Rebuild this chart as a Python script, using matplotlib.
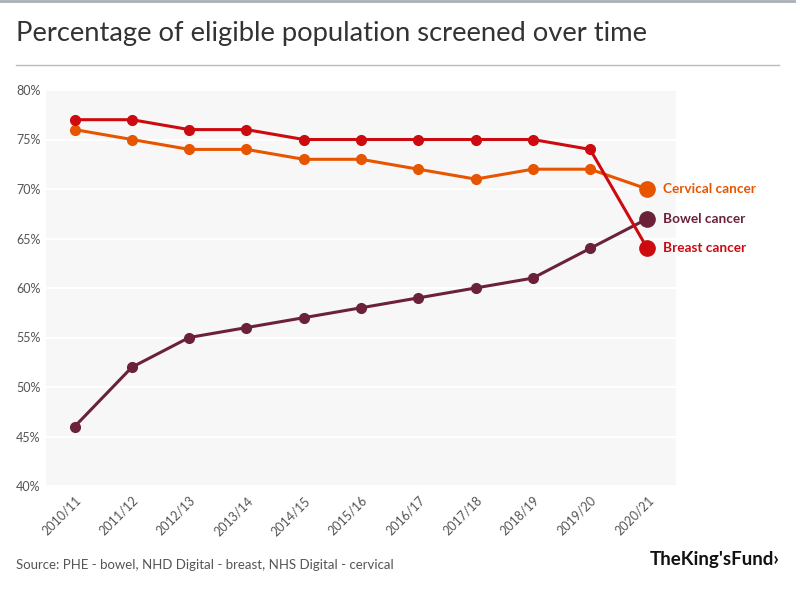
import matplotlib
matplotlib.use("Agg")
import matplotlib.pyplot as plt
from matplotlib.lines import Line2D

years = ["2010/11", "2011/12", "2012/13", "2013/14", "2014/15", "2015/16",
         "2016/17", "2017/18", "2018/19", "2019/20", "2020/21"]
breast = [77, 77, 76, 76, 75, 75, 75, 75, 75, 74, 64]
cervical = [76, 75, 74, 74, 73, 73, 72, 71, 72, 72, 70]
bowel = [46, 52, 55, 56, 57, 58, 59, 60, 61, 64, 67]
yticks = [40, 45, 50, 55, 60, 65, 70, 75, 80]

series = [
    ("Cervical cancer", cervical, "#e85500"),
    ("Bowel cancer", bowel, "#6b2238"),
    ("Breast cancer", breast, "#cc0a0f"),
]

plt.rcParams['font.family'] = ['Lato', 'DejaVu Sans']

W, H = 796, 590
fig = plt.figure(figsize=(W / 100, H / 100), dpi=100)
ax = fig.add_axes([46 / W, 1 - 486 / H, (676 - 46) / W, (486 - 90) / H])
ax.set_facecolor("#f7f7f7")

x = list(range(len(years)))
for name, vals, col in [series[1], series[0], series[2]]:
    ax.plot(x, vals, color=col, lw=2.2, marker="o", ms=7, zorder=3)
    ax.plot([x[-1]], [vals[-1]], marker="o", ms=11, color=col, zorder=4, ls="none")
    ax.annotate(name, xy=(x[-1], vals[-1]), xytext=(11, 0), textcoords="offset points",
                ha="left", va="center", color=col, fontsize=9.8, fontweight="bold",
                annotation_clip=False)

ax.set_xlim(-0.5, 10.5)
ax.set_ylim(40, 80)
ax.set_yticks(yticks)
ax.set_yticklabels([f"{v}%" for v in yticks])
ax.set_xticks(x)
ax.set_xticklabels(years, rotation=45, ha="right", va="top", rotation_mode="anchor")
ax.grid(axis="y", color="white", lw=1.5)
ax.set_axisbelow(True)
for s in ax.spines.values():
    s.set_visible(False)
ax.tick_params(axis="both", length=0, colors="#555555", labelsize=9)
ax.tick_params(axis="y", pad=4)
ax.tick_params(axis="x", pad=6)

fig.text(16 / W, 1 - 33 / H, "Percentage of eligible population screened over time",
         fontsize=19.7, color="#333333", ha="left", va="center")
fig.add_artist(Line2D([16 / W, 779 / W], [1 - 65 / H, 1 - 65 / H], color="#bbbbbb", lw=1))
fig.add_artist(Line2D([0, 1], [1 - 1 / H, 1 - 1 / H], color="#aab0b8", lw=2))
fig.text(16 / W, 1 - 565 / H, "Source: PHE - bowel, NHD Digital - breast, NHS Digital - cervical",
         fontsize=9.5, color="#555555", ha="left", va="center")
fig.text(780 / W, 1 - 560 / H, "TheKing'sFund\u203a", fontsize=13.5, fontweight="bold",
         color="#111111", ha="right", va="center")

fig.savefig("out.png", dpi=100)
